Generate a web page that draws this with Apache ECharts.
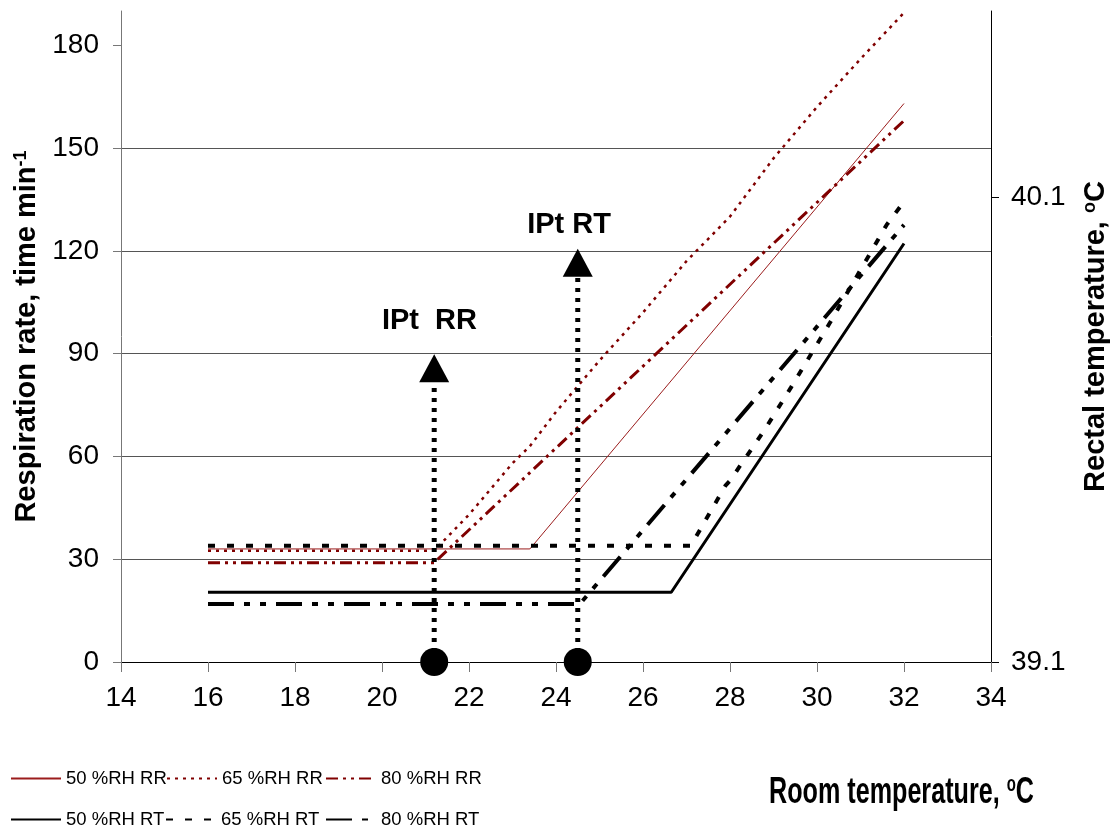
<!DOCTYPE html>
<html>
<head>
<meta charset="utf-8">
<script src="https://cdn.jsdelivr.net/npm/echarts@6/dist/echarts.min.js"></script>
<style>
html,body{margin:0;padding:0;background:#fff;}
#chart{width:1118px;height:827px;}
</style>
</head>
<body>
<div id="chart"></div>
<script>
// ---- data (room temperature in °C on x) ----
// Respiration rate (times/min), left axis
const rr50 = [[16, 33], [23.4, 33], [32, 163]];
const rr65 = [[16, 32.5], [21.2, 32.5], [22, 43], [23, 58], [23.4, 63], [24, 73], [25, 88], [26, 102], [27, 117], [28, 130], [29, 147], [30, 162], [31, 176], [32, 189.5]];
const rr80 = [[16, 29], [21.2, 29], [32, 158]];
// Rectal temperature (°C), right axis
const rt50 = [[16, 39.25], [26.65, 39.25], [32, 40.0]];
const rt65 = [[16, 39.35], [27.1, 39.35], [27.9, 39.48], [28.0, 39.49], [28.8, 39.60], [29.4, 39.69], [30.3, 39.83], [31.6, 40.04], [32, 40.09]];
const rt80 = [[16, 39.225], [24.55, 39.225], [32, 40.04]];
// inflection points
const iptRR = 21.2, iptRRTop = 85.7;
const iptRT = 24.5, iptRTTop = 116.5;
const iptLabels = [[21.09, 99.4, 'IPt  RR'], [24.3, 127.5, 'IPt RT']];
// axes
const xMin = 14, xMax = 34, xStep = 2;
const yTicks = [0, 30, 60, 90, 120, 150, 180];
const rtTicks = [39.1, 40.1];

const sans = "'Liberation Sans',Arial,sans-serif";

const chart = echarts.init(document.getElementById('chart'), null, {renderer: 'canvas'});

const legendNames = [['50 %RH RR', 10, 769], ['65 %RH RR', 166, 769], ['80 %RH RR', 325, 769],
                     ['50 %RH RT', 10, 810], ['65 %RH RT', 165, 810], ['80 %RH RT', 325, 810]];

const option = {
  animation: false,
  backgroundColor: '#fff',
  graphic: [{
    type: 'text', x: 769, y: 774, scaleX: 0.68, z: 10,
    style: {
      text: 'Room temperature, {sup|o}C', align: 'left', verticalAlign: 'top',
      fontFamily: sans, fontWeight: 'bold', fontSize: 37, fill: '#000',
      rich: {sup: {fontFamily: sans, fontWeight: 'bold', fontSize: 22, fill: '#000', verticalAlign: 'top'}}
    }
  }],
  legend: legendNames.map(l => ({
    data: [l[0]], left: l[1], top: l[2], padding: 0, itemWidth: 50, itemHeight: 12,
    itemStyle: {opacity: 0, borderWidth: 0},
    textStyle: {fontFamily: sans, fontSize: 18.5, color: '#000'}
  })),
  grid: {left: 121, right: 123, top: 11, bottom: 165, containLabel: false},
  xAxis: {
    type: 'value', min: xMin, max: xMax, interval: xStep,
    axisLine: {lineStyle: {color: '#000', width: 1}},
    axisTick: {length: 10, lineStyle: {color: '#777'}},
    axisLabel: {fontFamily: sans, fontSize: 28, color: '#000', margin: 22},
    splitLine: {show: false}
  },
  yAxis: [{
    type: 'value', min: 0, max: 190, interval: 30, position: 'left',
    name: 'Respiration rate, time min{sup|-1}', nameLocation: 'middle', nameGap: 75,
    nameTextStyle: {fontFamily: sans, fontWeight: 'bold', fontSize: 29, color: '#000',
      rich: {sup: {fontFamily: sans, fontWeight: 'bold', fontSize: 18, color: '#000', verticalAlign: 'top'}}},
    axisLine: {show: true, lineStyle: {color: '#777', width: 1}},
    axisTick: {show: true, length: 8, lineStyle: {color: '#777'}, customValues: yTicks},
    axisLabel: {fontFamily: sans, fontSize: 28, color: '#000', margin: 22, customValues: yTicks},
    splitLine: {show: true, showMinLine: false, showMaxLine: false, lineStyle: {color: '#555', width: 1}}
  }, {
    type: 'value', min: 39.1, max: 40.5, interval: 1, position: 'right',
    name: 'Rectal temperature, {sup|o}C', nameLocation: 'middle', nameGap: 90,
    nameTextStyle: {fontFamily: sans, fontWeight: 'bold', fontSize: 29, color: '#000',
      rich: {sup: {fontFamily: sans, fontWeight: 'bold', fontSize: 18, color: '#000', verticalAlign: 'top'}}},
    axisLine: {show: true, lineStyle: {color: '#000', width: 1}},
    axisTick: {show: true, length: 8, lineStyle: {color: '#000'}, customValues: rtTicks},
    axisLabel: {fontFamily: sans, fontSize: 28, color: '#000', margin: 20, customValues: rtTicks,
      formatter: v => Number(v).toFixed(1)},
    splitLine: {show: false}
  }],
  series: [
    {name: '50 %RH RR', type: 'line', data: rr50, yAxisIndex: 0, symbol: 'none', z: 3,
      lineStyle: {color: '#9b1c1c', width: 1}, itemStyle: {color: '#9b1c1c'}},
    {name: '65 %RH RR', type: 'line', data: rr65, yAxisIndex: 0, symbol: 'none', z: 3, clip: false,
      lineStyle: {color: '#800000', width: 2.5, type: [3, 5]}, itemStyle: {color: '#800000'}},
    {name: '80 %RH RR', type: 'line', data: rr80, yAxisIndex: 0, symbol: 'none', z: 3,
      lineStyle: {color: '#800000', width: 3, type: [12, 5, 3, 5, 3, 5]}, itemStyle: {color: '#800000'}},
    {name: '50 %RH RT', type: 'line', data: rt50, yAxisIndex: 1, symbol: 'none', z: 3,
      lineStyle: {color: '#000', width: 3}, itemStyle: {color: '#000'}},
    {name: '65 %RH RT', type: 'line', data: rt65, yAxisIndex: 1, symbol: 'none', z: 3,
      lineStyle: {color: '#000', width: 4, type: [7, 12]}, itemStyle: {color: '#000'}},
    {name: '80 %RH RT', type: 'line', data: rt80, yAxisIndex: 1, symbol: 'none', z: 3,
      lineStyle: {color: '#000', width: 4, type: [26, 10, 6, 10, 6, 10]}, itemStyle: {color: '#000'}},
    // inflection point arrows
    {name: 'arrowRR', type: 'line', data: [[iptRR, 0], [iptRR, iptRRTop - 3]], yAxisIndex: 0, symbol: 'none', z: 4,
      lineStyle: {color: '#000', width: 5, type: [4, 6]}},
    {name: 'arrowRT', type: 'line', data: [[iptRT, 0], [iptRT, iptRTTop - 3]], yAxisIndex: 0, symbol: 'none', z: 4,
      lineStyle: {color: '#000', width: 5, type: [4, 6]}},
    {name: 'heads', type: 'scatter', yAxisIndex: 0, z: 5, clip: false,
      data: [[iptRR, iptRRTop], [iptRT, iptRTTop]], symbol: 'triangle', symbolSize: [30, 28],
      itemStyle: {color: '#000', opacity: 1}},
    {name: 'dots', type: 'scatter', yAxisIndex: 0, z: 5, clip: false,
      data: [[iptRR, 0], [iptRT, 0]], symbol: 'circle', symbolSize: 28,
      itemStyle: {color: '#000', opacity: 1}},
    {name: 'iptText', type: 'scatter', yAxisIndex: 0, z: 5, clip: false,
      data: iptLabels.map(d => ({value: [d[0], d[1]], label: {formatter: d[2]}})),
      symbolSize: 1, itemStyle: {color: 'rgba(0,0,0,0)', opacity: 1},
      label: {show: true, position: 'inside', fontFamily: sans, fontWeight: 'bold', fontSize: 29, color: '#000', opacity: 1}}
  ]
};
chart.setOption(option);
</script>
</body>
</html>
